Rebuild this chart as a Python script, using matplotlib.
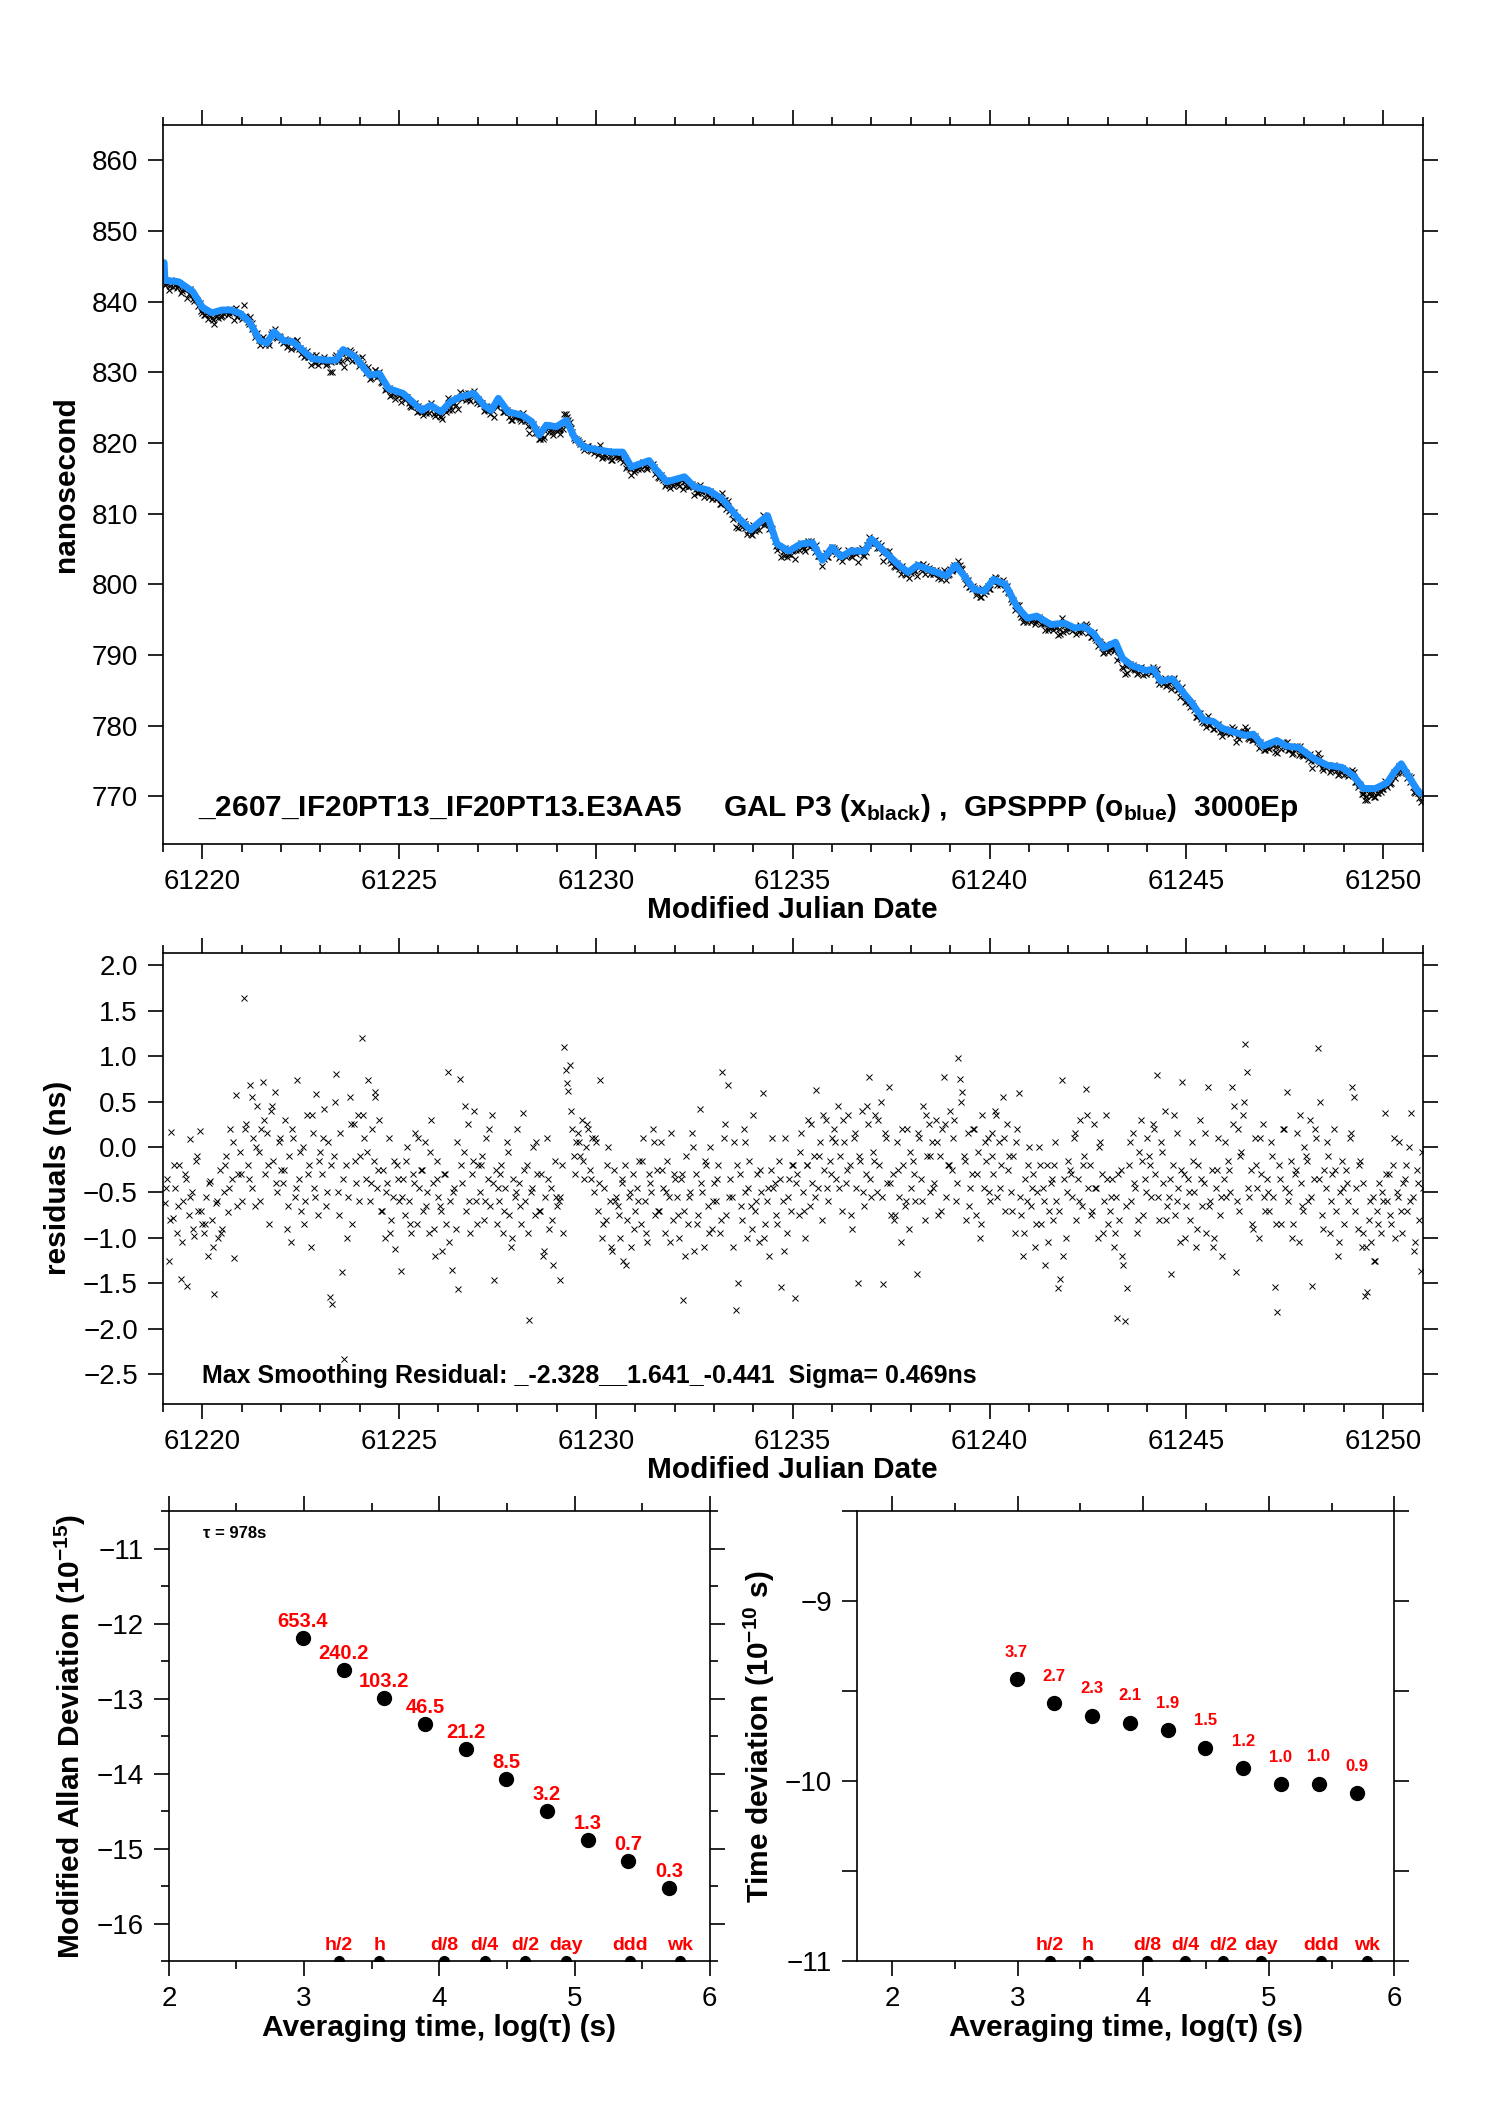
import numpy as np
import matplotlib
matplotlib.use("Agg")
import matplotlib.pyplot as plt
from matplotlib.ticker import MultipleLocator, FormatStrFormatter

plt.rcParams['font.family'] = ['Liberation Sans', 'DejaVu Sans']
plt.rcParams['mathtext.fontset'] = 'custom'
plt.rcParams['mathtext.rm'] = 'Liberation Sans'
plt.rcParams['mathtext.bf'] = 'Liberation Sans:bold'
plt.rcParams['mathtext.it'] = 'Liberation Sans:italic'

# smoothed GPSPPP curve (blue)
curve_mjd = [61219.03, 61219.05, 61219.40, 61219.76, 61220.00, 61220.24, 61220.50, 61220.73,
             61220.97, 61221.20, 61221.46, 61221.64, 61221.82, 61222.06, 61222.30, 61222.55,
             61222.80, 61223.16, 61223.40, 61223.58, 61223.88, 61224.25, 61224.50, 61224.73,
             61225.10, 61225.34, 61225.58, 61225.80, 61226.07, 61226.30, 61226.55, 61226.90,
             61227.16, 61227.34, 61227.52, 61227.77, 61228.13, 61228.37, 61228.56, 61228.74,
             61229.00, 61229.25, 61229.45, 61229.70, 61230.07, 61230.40, 61230.68, 61230.90,
             61231.35, 61231.50, 61231.80, 61232.25, 61232.50, 61232.86, 61233.20, 61233.60,
             61233.93, 61234.18, 61234.36, 61234.60, 61234.90, 61235.20, 61235.50, 61235.75,
             61236.00, 61236.23, 61236.48, 61236.84, 61237.00, 61237.32, 61237.70, 61237.93,
             61238.17, 61238.50, 61238.90, 61239.14, 61239.38, 61239.60, 61239.87, 61240.10,
             61240.40, 61240.70, 61240.96, 61241.20, 61241.56, 61241.90, 61242.17, 61242.40,
             61242.65, 61242.90, 61243.20, 61243.38, 61243.62, 61243.98, 61244.16, 61244.35,
             61244.65, 61244.90, 61245.13, 61245.44, 61245.68, 61245.92, 61246.20, 61246.53,
             61246.70, 61246.95, 61247.30, 61247.55, 61247.86, 61248.22, 61248.58, 61248.95,
             61249.25, 61249.50, 61249.80, 61250.10, 61250.28, 61250.46, 61250.64, 61250.90,
             61251.00]
curve_ns = [845.5, 843.0, 842.8, 841.4, 839.2, 838.4, 838.8, 838.8,
            838.3, 837.1, 834.5, 834.1, 835.7, 834.5, 834.3, 833.1,
            831.9, 831.7, 831.7, 833.2, 832.2, 829.6, 829.8, 827.7,
            827.0, 825.8, 824.6, 825.3, 824.4, 825.8, 826.5, 827.0,
            825.3, 824.6, 826.3, 824.4, 823.9, 823.0, 821.1, 822.5,
            822.3, 823.2, 820.8, 819.4, 819.0, 818.7, 818.7, 816.6,
            817.5, 816.4, 814.5, 815.2, 813.8, 813.3, 812.1, 809.5,
            807.7, 808.9, 809.7, 805.7, 804.7, 805.7, 805.9, 803.4,
            805.2, 803.9, 804.7, 804.7, 806.4, 804.7, 802.7, 801.7,
            802.7, 802.0, 801.2, 802.7, 801.0, 799.3, 799.0, 800.7,
            800.0, 796.8, 795.2, 795.5, 794.3, 794.5, 793.8, 794.0,
            793.0, 791.0, 791.8, 789.5, 788.5, 787.8, 788.0, 786.3,
            786.6, 784.8, 783.3, 780.8, 780.6, 779.6, 779.1, 778.6,
            778.8, 777.1, 777.9, 777.1, 776.9, 775.4, 774.4, 774.1,
            772.9, 771.1, 771.1, 771.9, 773.4, 774.6, 772.9, 770.6,
            770.4]

# GAL P3 residuals about the smoothing, one every 0.05 d starting at 61219.05
RES_T0, RES_DT = 61219.05, 0.05
resid_ns = [
    -0.62, -0.35, -1.25, 0.17, -0.78, -0.45, -0.95, -0.20, -1.45, -0.60,
    -0.30, -1.53, -0.75, 0.09, -0.50, -0.98, -0.15, -0.70, 0.18, -0.85,
    -0.95, -0.55, -1.20, -0.38, -0.80, -1.62, -0.62, -1.00, -0.25, -0.90,
    -0.50, -0.10, -0.72, 0.20, -0.35, -1.22, 0.57, -0.30, -0.05, -0.60,
    1.64, 0.25, -0.20, 0.68, -0.45, 0.10, -0.65, 0.45, -0.05, 0.20,
    0.72, -0.30, 0.15, -0.85, 0.40, -0.15, 0.60, -0.50, 0.05, -0.25,
    -0.40, 0.30, -0.90, -0.10, -1.05, 0.10, -0.55, 0.74, -0.35, -0.70,
    0.00, -0.60, 0.35, -0.20, -1.10, 0.15, -0.45, 0.58, -0.75, -0.05,
    -0.30, 0.42, -0.65, 0.05, -1.65, -1.73, -0.10, 0.80, -0.50, 0.15,
    -1.38, -2.33, -0.20, -0.55, 0.55, -0.85, 0.25, -0.40, 0.35, -0.10,
    1.20, 0.10, -0.35, 0.74, -0.60, 0.20, -0.15, 0.55, -0.45, 0.30,
    -0.70, -0.25, -1.00, -0.40, 0.10, -0.80, -0.55, -1.12, -0.20, -0.60,
    -1.37, -0.35, -0.75, 0.00, -0.60, -0.95, -0.30, 0.15, -0.85, -0.45,
    -0.25, -0.70, 0.05, -0.50, -0.95, 0.30, -0.40, -1.20, -0.15, -0.55,
    -0.65, -1.15, -0.30, -0.85, 0.83, -0.60, -1.35, -0.45, -0.90, -1.56,
    0.75, -0.40, -0.05, -0.70, 0.25, -0.95, -0.30, 0.40, -0.60, -0.20,
    -0.50, -0.10, -0.80, 0.10, -0.35, -0.65, 0.35, -1.47, -0.25, -0.45,
    -0.60, -0.20, -0.95, -0.45, 0.05, -0.75, -1.10, -0.35, -0.55, 0.20,
    -0.40, -0.85, 0.37, -0.60, -0.20, -1.91, -0.50, 0.00, -0.75, -0.30,
    -0.70, -0.30, -1.20, -0.55, 0.10, -0.90, -0.45, -1.30, -0.15, -0.65,
    -0.60, -1.47, -0.20, 1.10, 0.85, 0.62, 0.90, 0.20, -0.10, 0.05,
    0.15, -0.10, 0.30, -0.35, 0.00, 0.20, -0.25, 0.10, -0.50, 0.05,
    -0.70, 0.74, -1.00, -0.45, -0.80, 0.00, -0.60, -1.15, -0.25, -0.55,
    -0.65, -1.00, -0.40, -1.25, -0.20, -0.80, -0.55, -1.10, -0.30, -0.70,
    -0.45, -0.15, -0.85, 0.10, -0.60, -1.05, -0.30, -0.50, 0.20, -0.75,
    -0.25, -0.70, 0.05, -0.45, -0.95, -0.15, -0.55, 0.15, -0.80, -0.35,
    -0.55, -1.00, -0.35, -1.68, -0.70, -0.10, -0.85, -0.50, 0.15, -1.15,
    -0.30, -0.75, 0.42, -0.50, -1.10, -0.20, -0.65, 0.00, -0.90, -0.40,
    -0.60, -0.20, -0.95, 0.83, 0.10, -0.75, 0.68, -0.35, -0.55, 0.05,
    -1.79, -1.50, -0.30, -0.80, 0.20, -0.50, -1.00, -0.15, -0.65, 0.35,
    -0.70, -0.30, -1.05, -0.50, 0.59, -0.85, -0.60, -1.20, -0.25, -0.45,
    -0.40, -0.85, -0.15, -1.54, -0.60, 0.10, -0.95, -0.35, -0.70, -0.20,
    -1.66, -0.30, -0.75, 0.15, -0.50, -1.00, -0.20, 0.30, -0.65, -0.40,
    -0.10, 0.63, -0.45, 0.05, -0.80, -0.25, 0.30, -0.60, -0.15, 0.10,
    0.20, -0.35, 0.45, -0.10, -0.70, 0.05, -0.40, 0.35, -0.20, -0.90,
    0.10, -0.45, -1.50, -0.15, 0.40, -0.65, -0.30, 0.25, 0.77, -0.55,
    -0.05, 0.35, -0.50, -0.20, 0.50, -1.51, 0.15, -0.40, 0.66, -0.75,
    -0.30, -0.75, 0.05, -0.55, -1.05, -0.20, -0.65, 0.20, -0.90, -0.45,
    -0.15, -0.60, -1.40, 0.10, -0.35, 0.45, -0.80, -0.10, 0.25, -0.50,
    0.05, -0.40, 0.30, -0.75, -0.10, 0.20, 0.77, -0.55, -0.20, 0.40,
    -0.25, 0.30, -0.60, 0.98, 0.75, 0.60, -0.10, -0.80, 0.15, -0.45,
    -0.30, 0.20, -0.75, -0.05, -1.00, 0.35, -0.45, -0.15, 0.10, -0.60,
    0.15, -0.30, 0.40, -0.55, 0.05, -0.20, 0.55, -0.70, 0.25, -0.10,
    -0.50, -0.10, -0.95, 0.20, 0.59, -0.75, -1.20, -0.35, -0.60, 0.00,
    -0.65, -0.30, -1.10, -0.50, 0.00, -0.85, -0.45, -1.30, -0.20, -0.70,
    -0.40, -0.80, -0.20, -0.60, -1.55, -1.45, 0.74, -0.35, -1.00, -0.15,
    -0.25, -0.55, 0.10, -0.80, -0.35, 0.30, -0.65, -0.10, 0.64, -0.45,
    -0.20, -0.70, 0.25, -0.45, -1.00, 0.05, -0.30, -0.60, 0.35, -0.85,
    -0.70, -0.35, -1.10, -0.55, -1.88, -0.80, -0.25, -1.30, -1.92, -1.55,
    -0.20, -0.60, 0.15, -0.45, -0.95, -0.05, 0.30, -0.75, -0.35, 0.10,
    -0.10, -0.55, 0.25, -0.30, 0.79, -0.80, 0.05, -0.40, 0.40, -0.65,
    -0.55, -1.40, -0.20, -0.75, 0.15, -0.45, -1.05, 0.72, -0.30, -0.65,
    -0.35, -0.80, 0.05, -0.50, -1.10, -0.20, 0.30, -0.65, -0.40, -0.95,
    0.66, -0.60, -0.25, -1.00, -0.45, 0.10, -0.75, -1.20, -0.35, -0.55,
    -0.15, -0.50, 0.66, 0.45, -1.38, 0.20, -0.70, -0.05, 0.35, 1.13,
    0.83, -0.55, -0.25, -0.90, 0.10, -0.45, -1.00, -0.30, 0.25, -0.70,
    -0.35, -0.70, 0.05, -0.55, -1.54, -1.82, -0.20, -0.85, 0.20, -0.45,
    0.60, -0.50, -0.15, -0.85, -0.30, 0.15, -1.05, -0.40, -0.65, 0.00,
    -0.10, -0.60, 0.30, -1.53, -0.35, 0.10, 1.09, 0.50, -0.75, -0.25,
    -0.45, -0.10, -0.95, -0.30, 0.20, -0.70, -1.20, -0.50, -0.15, -0.85,
    -0.25, -0.60, 0.10, 0.66, 0.55, -0.45, -0.90, -0.15, -1.10, -0.40,
    -1.64, -1.60, -0.80, -1.05, -0.55, -1.25, -0.70, -0.40, -0.95, -0.60,
    0.37, -0.60, -0.30, -0.85, -0.20, -1.00, -0.50, 0.05, -0.70, -0.40,
    -0.35, -0.70, 0.00, 0.37, -0.55, -1.05, -0.25, -0.80, -1.37, -0.45,
]

# the in-between epochs, one every 0.1 d starting at 61219.075 (one row per day)
RES2_T0, RES2_DT = 61219.075, 0.1
resid2_ns = [
    -0.45, -0.80, -0.20, -0.65, -1.05, -0.35, -0.55, -0.90, -0.10, -0.70,
    -0.85, -0.40, -1.10, -0.60, -0.95, -0.20, -0.45, 0.05, -0.65, -0.30,
    0.20, -0.35, 0.55, 0.00, -0.60, 0.30, -0.20, 0.45, -0.40, 0.10,
    -0.25, -0.65, 0.20, -0.45, -0.05, -0.85, -0.30, 0.35, -0.55, -0.15,
    0.10, -0.50, -0.20, 0.50, -0.75, -0.35, -1.00, 0.25, -0.15, -0.60,
    0.35, -0.05, -0.40, 0.60, -0.25, -0.70, -0.50, -0.95, -0.15, -0.35,
    -0.55, -0.15, -0.85, -0.40, 0.10, -0.25, -0.65, -0.05, -0.90, -0.35,
    -0.70, -0.30, -1.05, -0.50, 0.05, -0.20, 0.45, -0.60, -0.15, -0.85,
    -0.20, -0.60, 0.20, -0.40, -0.85, -0.30, -0.70, -0.05, -1.00, -0.50,
    -0.65, -0.25, -0.95, -0.45, 0.05, -0.70, -1.15, -0.35, -0.80, -0.55,
    -0.55, -0.95, 0.70, 0.40, -0.30, 0.05, -0.15, 0.25, -0.35, 0.10,
    -0.40, -0.85, -0.20, -1.10, -0.60, -0.75, -0.35, -1.30, -0.50, -0.90,
    -0.60, -0.15, -0.95, -0.40, 0.05, -0.70, -0.25, -0.50, -1.05, -0.30,
    -0.75, -0.30, -1.20, -0.55, 0.00, -0.85, -0.40, -0.15, -0.95, -0.60,
    -0.35, -0.80, 0.25, -0.55, -1.10, -0.20, -0.65, 0.05, -0.45, -0.90,
    -0.60, -0.25, -1.00, -0.45, 0.10, -0.75, -0.35, -1.15, -0.55, -0.20,
    -0.40, -0.05, -0.70, -0.20, 0.25, -0.55, -0.10, 0.35, -0.45, -0.30,
    0.05, -0.45, 0.30, -0.25, -0.75, 0.15, -0.10, -0.50, 0.45, -0.35,
    -0.15, 0.30, -0.55, 0.10, -0.40, -0.80, -0.25, 0.20, -0.60, -0.05,
    -0.30, 0.15, -0.60, 0.35, -0.10, -0.45, 0.05, -0.70, 0.25, -0.20,
    0.10, -0.40, 0.50, -0.15, -0.65, 0.20, -0.30, -0.85, 0.05, -0.50,
    -0.10, 0.35, -0.45, 0.10, -0.25, -0.70, 0.05, -0.55, -0.95, -0.20,
    -0.45, -0.85, -0.20, -0.60, -1.05, -0.35, 0.05, -0.70, -1.20, -0.50,
    -0.30, 0.15, -0.60, -0.20, 0.35, -0.75, -0.45, 0.00, -0.95, -0.35,
    -0.55, -0.95, -0.30, -1.20, -0.65, 0.05, -0.40, -0.80, -0.15, -0.50,
    -0.20, 0.20, -0.55, -0.05, -0.80, -0.35, 0.35, -0.60, -0.25, -1.00,
    -0.50, -0.15, -0.90, -0.35, 0.15, -0.65, -1.10, -0.25, -0.55, 0.05,
    -0.25, 0.25, -0.60, -0.10, 0.50, -0.45, -0.85, -0.20, 0.10, -0.55,
    -0.50, -0.10, -0.85, -0.35, 0.20, -0.60, -1.00, -0.25, 0.35, -0.70,
    -0.15, -0.55, 0.20, -0.35, -0.90, 0.05, -0.60, -0.25, -1.05, -0.45,
    -0.40, 0.15, -0.70, -0.20, -0.95, -1.10, -0.60, -1.25, -0.85, -0.50,
    -0.30, -0.75, 0.10, -0.55, -0.95, -0.20, -0.60, -1.15, -0.40, -0.05,
]

# stability results, tau = 978 s * 2^n
tau_s = [978, 1956, 3912, 7824, 15648, 31296, 62592, 125184, 250368, 500736]
mdev_e15 = [653.4, 240.2, 103.2, 46.5, 21.2, 8.5, 3.2, 1.32, 0.68, 0.30]
tdev_e10 = [3.70, 2.72, 2.32, 2.11, 1.92, 1.54, 1.18, 0.96, 0.97, 0.86]

mark_names = ['h/2', 'h', 'd/8', 'd/4', 'd/2', 'day', 'ddd', 'wk']
mark_tau_s = [1800, 3600, 10800, 21600, 43200, 86400, 259200, 604800]

title_txt = (r'_2607_IF20PT13_IF20PT13.E3AA5     GAL P3 (x$_{\mathbf{black}}$) ,  '
             r'GPSPPP (o$_{\mathbf{blue}}$)  3000Ep')
resid_txt = 'Max Smoothing Residual: _-2.328__1.641_-0.441  Sigma= 0.469ns'

t_res = np.concatenate([RES_T0 + RES_DT * np.arange(len(resid_ns)),
                        RES2_T0 + RES2_DT * np.arange(len(resid2_ns))])
res_all = np.concatenate([resid_ns, resid2_ns])
gal_ns = np.interp(t_res, curve_mjd, curve_ns) + res_all

TICK, LAB = 20, 21.5
fig = plt.figure(figsize=(14.88, 21.05), dpi=100)
ax1 = fig.add_axes([0.1095, 0.5992, 0.8465, 0.3415])
ax2 = fig.add_axes([0.1095, 0.3331, 0.8465, 0.2144])
ax3 = fig.add_axes([0.1135, 0.0683, 0.3635, 0.2137])
ax4 = fig.add_axes([0.576, 0.0683, 0.361, 0.2137])


def frame(ax, minor_len=6):
    ax.tick_params(which='both', direction='out', top=True, right=True,
                   labelsize=TICK, width=1.2)
    ax.tick_params(which='major', length=11, pad=7)
    ax.tick_params(which='minor', length=minor_len)
    for s in ax.spines.values():
        s.set_linewidth(1.2)


# --- top: time series
ax1.plot(t_res, gal_ns, 'x', color='black', ms=5, mew=0.8)
ax1.plot(curve_mjd, curve_ns, '-', color='#1E90FF', lw=5, solid_capstyle='round')
ax1.set_ylim(763.3, 865)
ax1.set_yticks(np.arange(770, 861, 10))
for ax in (ax1, ax2):
    ax.set_xlim(61219, 61251)
    ax.xaxis.set_major_locator(MultipleLocator(5))
    ax.xaxis.set_minor_locator(MultipleLocator(1))
    ax.xaxis.set_major_formatter(FormatStrFormatter('%d'))
    ax.set_xlabel('Modified Julian Date', fontsize=LAB, fontweight='bold', labelpad=1)
    frame(ax)
ax1.set_ylabel('nanosecond', fontsize=LAB, fontweight='bold', labelpad=8)
ax1.text(61219.9, 767.2, title_txt, fontsize=21.5, fontweight='bold')

# --- middle: residuals
ax2.plot(t_res, res_all, 'x', color='black', ms=5, mew=0.7)
ax2.set_ylim(-2.828, 2.141)
ax2.yaxis.set_major_locator(MultipleLocator(0.5))
ax2.set_ylabel('residuals (ns)', fontsize=LAB, fontweight='bold', labelpad=8)
ax2.text(61220.0, -2.6, resid_txt, fontsize=18, fontweight='bold')

# --- bottom: stability
lt = np.log10(tau_s)
lm = np.log10(mark_tau_s)
panels = [(ax3, np.log10(mdev_e15) - 15, mdev_e15, (2, 6), (-16.5, -10.5), 14.5, 5,
           r'Modified Allan Deviation (10$^{\mathbf{-15}}$)'),
          (ax4, np.log10(tdev_e10) - 10, tdev_e10, (1.72, 6), (-11, -8.5), 12, 14,
           r'Time deviation (10$^{\mathbf{-10}}$ s)')]
for ax, y, vals, xl, yl, fs, off, ylab in panels:
    ax.plot(lt, y, 'o', color='black', ms=10)
    for xi, yi, v in zip(lt, y, vals):
        ax.annotate(f'{v:.1f}', (xi, yi), xytext=(0, off), textcoords='offset points',
                    ha='center', va='bottom', color='red', fontsize=fs, fontweight='bold')
    ax.plot(lm, np.full(len(lm), yl[0]), 'o', color='black', ms=7)
    for xi, name in zip(lm, mark_names):
        ax.annotate(name, (xi, yl[0]), xytext=(0, 5), textcoords='offset points',
                    ha='center', va='bottom', color='red', fontsize=14, fontweight='bold')
    ax.set_xlim(*xl)
    ax.set_ylim(*yl)
    ax.xaxis.set_major_locator(MultipleLocator(1))
    ax.xaxis.set_minor_locator(MultipleLocator(0.5))
    ax.yaxis.set_major_locator(MultipleLocator(1))
    ax.yaxis.set_minor_locator(MultipleLocator(0.5))
    ax.set_xlabel('Averaging time, log(τ) (s)', fontsize=LAB, fontweight='bold', labelpad=1)
    ax.set_ylabel(ylab, fontsize=LAB, fontweight='bold', labelpad=6)
    frame(ax)
ax4.tick_params(axis='y', which='minor', length=11)
ax3.text(2.25, -10.85, 'τ = 978s', fontsize=12, fontweight='bold')

fig.savefig('out.png', dpi=100)
